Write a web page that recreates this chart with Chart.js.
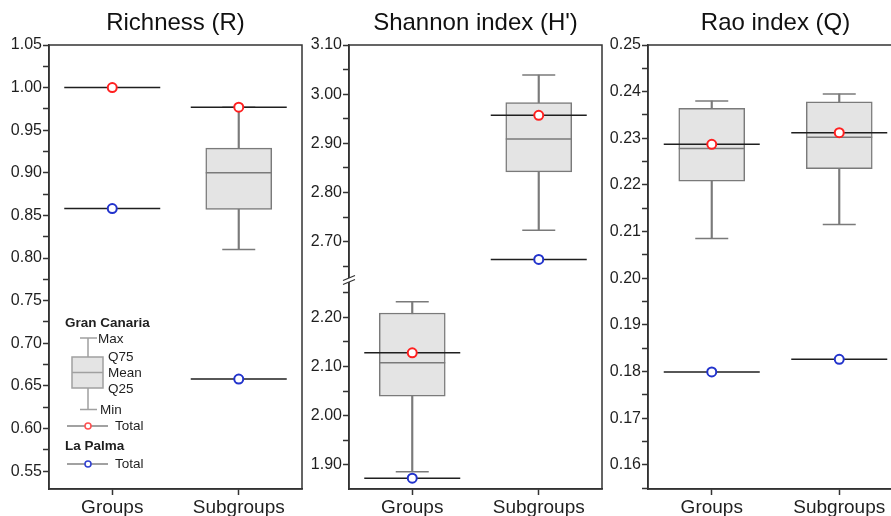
<!DOCTYPE html>
<html>
<head>
<meta charset="utf-8">
<script src="https://cdn.jsdelivr.net/npm/chart.js@4.4.1/dist/chart.umd.min.js"></script>
<style>
  html, body { margin: 0; padding: 0; background: #fff; overflow: hidden; }
  body { width: 891px; height: 516px; position: relative; }
  canvas { position: absolute; top: 0; }
</style>
</head>
<body>
<canvas id="rich" width="304" height="516" style="left:0px"></canvas>
<canvas id="shan" width="300" height="516" style="left:304px"></canvas>
<canvas id="rao" width="301" height="516" style="left:604px"></canvas>
<script>
const categories = ["Groups", "Subgroups"];

// Richness (R)
const richMin  = [null, 0.810];
const richQ25  = [null, 0.857];
const richMean = [null, 0.900];
const richQ75  = [null, 0.929];
const richMax  = [null, 0.977];
const richGC   = [1.000, 0.977];
const richLP   = [0.858, 0.658];
const richAxis = [0.529, 1.05];

// Shannon index (H'), axis is broken between the two parts
const shanMin  = [1.886, 2.723];
const shanQ25  = [2.040, 2.842];
const shanMean = [2.108, 2.909];
const shanQ75  = [2.209, 2.983];
const shanMax  = [2.232, 3.039];
const shanGC   = [2.128, 2.957];
const shanLP   = [1.873, 2.664];
const shanLowAxis  = [1.851, 2.275];
const shanHighAxis = [2.621, 3.10];

// Rao index (Q)
const raoMin  = [0.2085, 0.2115];
const raoQ25  = [0.2208, 0.2235];
const raoMean = [0.2278, 0.2302];
const raoQ75  = [0.2364, 0.2378];
const raoMax  = [0.2380, 0.2395];
const raoGC   = [0.2287, 0.2312];
const raoLP   = [0.1799, 0.1826];
const raoAxis = [0.1548, 0.25];

const FONT = "'Liberation Sans', Arial, sans-serif";
const GRAY = "#7a7a7a";
const INK = "#1f1f1f";
const RED = "#ff2020";
const BLUE = "#2233cc";

function pair(a, b) {
    return a.map((v, i) => (v == null || b[i] == null) ? null : [v, b[i]]);
}

function within(arr, lo, hi) {
    return arr.map(v => (v != null && v >= lo && v <= hi) ? v : null);
}

function marks(s, yID) {
    const pt = (data, style, radius, color, width, order, fill) => ({
        type: "line", data, yAxisID: yID, showLine: false, order,
        pointStyle: style, pointRadius: radius, pointHoverRadius: radius,
        pointBorderColor: color, pointBorderWidth: width,
        pointBackgroundColor: fill || color
    });
    return [
        { type: "bar", data: pair(s.min, s.max), yAxisID: yID, grouped: false, order: 9,
          barThickness: 1.5, backgroundColor: GRAY, borderWidth: 0 },
        { type: "bar", data: pair(s.q25, s.q75), yAxisID: yID, grouped: false, order: 8,
          barThickness: 66, backgroundColor: "#e4e4e4", borderColor: GRAY,
          borderWidth: 1.5, borderSkipped: false },
        pt(s.mean, "line", 33, GRAY, 1.5, 7),
        pt(s.min, "line", 16.5, GRAY, 1.5, 7),
        pt(s.max, "line", 16.5, GRAY, 1.5, 7),
        pt(s.gc, "line", 48, INK, 1.5, 5),
        pt(s.lp, "line", 48, INK, 1.5, 5),
        pt(s.gc, "circle", 4.5, RED, 2, 1, "#fff"),
        pt(s.lp, "circle", 4.5, BLUE, 2, 1, "#fff")
    ];
}

function yScale(range, step, major, width, extra) {
    return Object.assign({
        type: "linear", position: "left", min: range[0], max: range[1], beginAtZero: false,
        afterFit: sc => { sc.width = width; },
        border: { color: "#333", width: 1.5 },
        grid: { drawOnChartArea: false, drawTicks: true, tickLength: 6, tickColor: "#333", tickWidth: 1.5 },
        ticks: {
            stepSize: step, autoSkip: false, includeBounds: false, padding: 1,
            color: INK, font: { family: FONT, size: 16 },
            callback: v => Math.abs(v / major - Math.round(v / major)) < 1e-6 ? v.toFixed(2) : ""
        }
    }, extra || {});
}

const xScale = {
    type: "category", labels: categories, offset: true,
    afterFit: sc => { sc.height = 27; },
    border: { color: "#333", width: 1.5 },
    grid: { drawOnChartArea: false, drawTicks: true, tickLength: 6, tickColor: "#333", tickWidth: 1.5, offset: false },
    ticks: { color: INK, padding: 1, font: { family: FONT, size: 19 } }
};

const framePlugin = {
    id: "frame",
    afterDraw(chart) {
        const { ctx, chartArea: a } = chart;
        ctx.save();
        ctx.strokeStyle = "#333";
        ctx.lineWidth = 1.5;
        ctx.strokeRect(a.left, a.top, a.right - a.left, a.bottom - a.top);
        ctx.restore();
    }
};

function baseOptions(title, scales) {
    return {
        responsive: false, animation: false, events: [],
        layout: { autoPadding: false, padding: { left: 0, right: 2, top: 0, bottom: 0 } },
        scales,
        plugins: {
            legend: { display: false },
            tooltip: { enabled: false },
            title: {
                display: true, text: title, fullSize: false, color: "#111",
                font: { family: FONT, size: 24, weight: "normal", lineHeight: 1.2 },
                padding: { top: 9, bottom: 7.2 }
            }
        }
    };
}

// legend drawn inside the Richness panel
const islandLegend = {
    id: "islandLegend",
    afterDraw(chart) {
        const ctx = chart.ctx;
        ctx.save();
        ctx.textBaseline = "middle";
        ctx.fillStyle = INK;
        ctx.font = "bold 13.5px " + FONT;
        ctx.fillText("Gran Canaria", 65, 323);
        ctx.fillText("La Palma", 65, 446);

        ctx.strokeStyle = "#a0a0a0";
        ctx.lineWidth = 1.5;
        ctx.beginPath();
        ctx.moveTo(88, 338); ctx.lineTo(88, 409.5);
        ctx.moveTo(80, 338); ctx.lineTo(97, 338);
        ctx.moveTo(80, 409.5); ctx.lineTo(97, 409.5);
        ctx.stroke();
        ctx.fillStyle = "#e4e4e4";
        ctx.fillRect(72, 357, 31, 31);
        ctx.strokeRect(72, 357, 31, 31);
        ctx.beginPath();
        ctx.moveTo(72, 372.5); ctx.lineTo(103, 372.5);
        ctx.stroke();

        ctx.fillStyle = INK;
        ctx.font = "13.5px " + FONT;
        ctx.fillText("Max", 98, 339);
        ctx.fillText("Q75", 108, 357.5);
        ctx.fillText("Mean", 108, 373);
        ctx.fillText("Q25", 108, 389);
        ctx.fillText("Min", 100, 410);
        ctx.fillText("Total", 115, 426);
        ctx.fillText("Total", 115, 464);

        [[426, "#ff5050"], [464, "#3040d0"]].forEach(([y, c]) => {
            ctx.strokeStyle = "#444";
            ctx.lineWidth = 1.2;
            ctx.beginPath();
            ctx.moveTo(67, y); ctx.lineTo(108, y);
            ctx.stroke();
            ctx.beginPath();
            ctx.arc(88, y, 3, 0, Math.PI * 2);
            ctx.fillStyle = "#fff";
            ctx.fill();
            ctx.strokeStyle = c;
            ctx.lineWidth = 1.5;
            ctx.stroke();
        });
        ctx.restore();
    }
};

// "//" mark where the Shannon axis is cut
const breakMark = {
    id: "breakMark",
    afterDraw(chart) {
        const ctx = chart.ctx;
        const x = chart.chartArea.left;
        const y = chart.scales.yHigh.bottom;
        ctx.save();
        ctx.fillStyle = "#fff";
        ctx.beginPath();
        ctx.moveTo(x - 6, y); ctx.lineTo(x + 6, y - 5);
        ctx.lineTo(x + 6, y - 1); ctx.lineTo(x - 6, y + 4);
        ctx.closePath();
        ctx.fill();
        ctx.strokeStyle = "#333";
        ctx.lineWidth = 1.2;
        ctx.beginPath();
        ctx.moveTo(x - 6, y); ctx.lineTo(x + 6, y - 5);
        ctx.moveTo(x - 6, y + 4); ctx.lineTo(x + 6, y - 1);
        ctx.stroke();
        ctx.restore();
    }
};

new Chart(document.getElementById("rich"), {
    type: "bar",
    data: {
        labels: categories,
        datasets: marks({ min: richMin, q25: richQ25, mean: richMean, q75: richQ75, max: richMax, gc: richGC, lp: richLP }, "y")
    },
    options: baseOptions("Richness (R)", { x: xScale, y: yScale(richAxis, 0.025, 0.05, 49) }),
    plugins: [framePlugin, islandLegend]
});

const shanSeries = [shanMin, shanQ25, shanMean, shanQ75, shanMax, shanGC, shanLP];
function shanPart(range) {
    const [mn, q25, mean, q75, mx, gc, lp] = shanSeries.map(a => within(a, range[0], range[1]));
    return { min: mn, q25, mean, q75, max: mx, gc, lp };
}

new Chart(document.getElementById("shan"), {
    type: "bar",
    data: {
        labels: categories,
        datasets: marks(shanPart(shanLowAxis), "yLow").concat(marks(shanPart(shanHighAxis), "yHigh"))
    },
    options: baseOptions("Shannon index (H')", {
        x: xScale,
        yLow: yScale(shanLowAxis, 0.05, 0.1, 45, { stack: "shan", stackWeight: shanLowAxis[1] - shanLowAxis[0], weight: 1 }),
        yHigh: yScale(shanHighAxis, 0.05, 0.1, 45, { stack: "shan", stackWeight: shanHighAxis[1] - shanHighAxis[0], weight: 2 })
    }),
    plugins: [framePlugin, breakMark]
});

new Chart(document.getElementById("rao"), {
    type: "bar",
    data: {
        labels: categories,
        datasets: marks({ min: raoMin, q25: raoQ25, mean: raoMean, q75: raoQ75, max: raoMax, gc: raoGC, lp: raoLP }, "y")
    },
    options: baseOptions("Rao index (Q)", { x: xScale, y: yScale(raoAxis, 0.005, 0.01, 44) }),
    plugins: [framePlugin]
});
</script>
</body>
</html>
